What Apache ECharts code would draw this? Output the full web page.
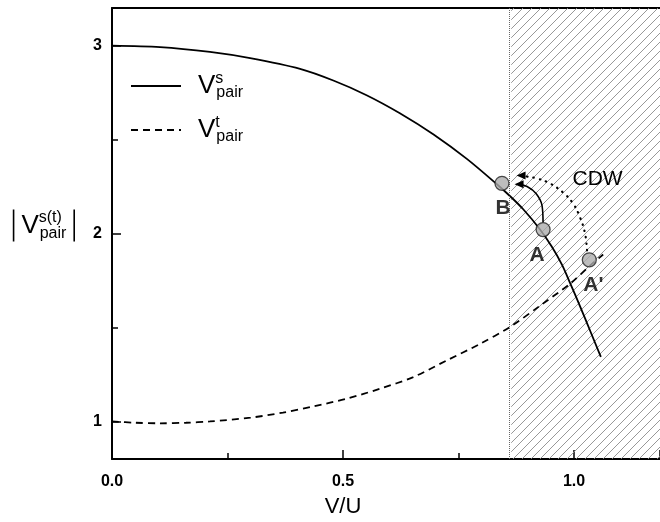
<!DOCTYPE html>
<html>
<head>
<meta charset="utf-8">
<script src="https://cdn.jsdelivr.net/npm/echarts@6/dist/echarts.min.js"></script>
<style>html,body{margin:0;padding:0;background:#fff}#c{width:660px;height:522px}</style>
</head>
<body>
<div id="c"></div>
<script>
// ---- data ----
const xMin = 0, xMax = 1.186;
const yMin = 0.8, yMax = 3.2;
const yMajorTicks = [1, 2, 3];
const yMinorTicks = [1.5, 2.5];
const cdwStart = 0.864;

const singletCurve = [
  [0, 3.0], [0.104, 2.992], [0.212, 2.966], [0.299, 2.933], [0.407, 2.876], [0.479, 2.814],
  [0.551, 2.736], [0.623, 2.640], [0.696, 2.527], [0.768, 2.397], [0.833, 2.262],
  [0.864, 2.193], [0.890, 2.129], [0.926, 2.023], [0.952, 1.929], [0.974, 1.833],
  [0.991, 1.739], [1.013, 1.612], [1.035, 1.481], [1.058, 1.343]
];
const tripletCurve = [
  [0, 1.0], [0.05, 0.993], [0.104, 0.99], [0.16, 0.993], [0.212, 1.0], [0.3, 1.02],
  [0.37, 1.047], [0.436, 1.08], [0.508, 1.121], [0.58, 1.174], [0.652, 1.236],
  [0.724, 1.324], [0.797, 1.413], [0.861, 1.502], [0.926, 1.615], [0.991, 1.732],
  [1.035, 1.83], [1.063, 1.888]
];
const pointNames = ["B", "A", "A'"];
const pointValues = [[0.844, 2.267], [0.933, 2.021], [1.033, 1.860]];

const arrowSolidPath = [[0.9329, 2.058], [0.9307, 2.149], [0.9177, 2.213], [0.8983, 2.250], [0.881, 2.262]];
const arrowDottedPath = [[1.0281, 1.910], [1.0238, 2.0], [1.0130, 2.085], [0.9978, 2.160], [0.9762, 2.218],
  [0.9481, 2.266], [0.9199, 2.293], [0.8983, 2.303], [0.8853, 2.309]];

const legendNames = ['Vs', 'Vt'];
const legendSup = {Vs: 's', Vt: 't'};

// ---- hatch pattern ----
const pc = document.createElement('canvas');
pc.width = 9; pc.height = 9;
const g = pc.getContext('2d');
g.strokeStyle = '#8c8c8c'; g.lineWidth = 0.9;
g.beginPath();
g.moveTo(0, 9); g.lineTo(9, 0);
g.moveTo(-1, 1); g.lineTo(1, -1);
g.moveTo(8, 10); g.lineTo(10, 8);
g.stroke();

function arrowData(path) {
  return path.map((p, i) => i === path.length - 1
    ? {value: p, symbol: 'triangle', symbolSize: [8, 9], symbolRotate: 90, itemStyle: {color: '#000'}}
    : {value: p, symbol: 'none'});
}

const FONT = 'Liberation Sans, Arial, Helvetica, sans-serif';
const richV = {
  v: {fontSize: 26, fontFamily: FONT, color: '#000', lineHeight: 30, align: 'left'},
  sup: {fontSize: 16, fontFamily: FONT, color: '#000', verticalAlign: 'top', width: 1, lineHeight: 17, align: 'left'},
  sub: {fontSize: 16, fontFamily: FONT, color: '#000', verticalAlign: 'bottom', lineHeight: 17, align: 'left'},
  sp: {width: 7, fontSize: 10, align: 'left'},
  bar: {width: 1.6, height: 32, backgroundColor: '#000', fontSize: 10, align: 'left'}
};

const chart = echarts.init(document.getElementById('c'), null, {renderer: 'canvas'});
chart.setOption({
  backgroundColor: '#fff',
  animation: false,
  grid: {left: 112, right: 0, top: 8, bottom: 63, outerBoundsMode: 'none', containLabel: false},
  legend: {
    data: legendNames,
    orient: 'vertical',
    left: 130, top: 71, padding: 0,
    itemWidth: 50, itemHeight: 14, itemGap: 14,
    itemStyle: {color: 'rgba(0,0,0,0)', borderWidth: 0, opacity: 0},
    formatter: n => '{v|V}{sup|' + legendSup[n] + '}{sub|pair}',
    textStyle: {padding: [0, 0, 0, 12], rich: richV}
  },
  xAxis: [{
    type: 'value', min: xMin, max: xMax, interval: 0.5,
    axisLine: {show: true, onZero: false, lineStyle: {color: '#000', width: 2}},
    axisTick: {show: true, inside: true, length: 9, lineStyle: {color: '#000', width: 1.5}},
    minorTick: {show: true, splitNumber: 2, length: 6, lineStyle: {color: '#000', width: 1.5}},
    splitLine: {show: false},
    axisLabel: {margin: 15, color: '#000', fontSize: 16, fontWeight: 'bold', fontFamily: FONT,
      showMaxLabel: false, formatter: v => v.toFixed(1)},
    name: 'V/U', nameLocation: 'middle', nameGap: 37,
    nameTextStyle: {fontSize: 22, color: '#000', fontFamily: FONT, padding: [0, 86, 0, 0]}
  }, {
    type: 'value', position: 'top', min: xMin, max: xMax, interval: 0.5,
    axisLine: {show: true, lineStyle: {color: '#000', width: 2}},
    axisTick: {show: false}, axisLabel: {show: false}, splitLine: {show: false}
  }],
  yAxis: [{
    type: 'value', min: yMin, max: yMax,
    axisLine: {show: true, onZero: false, lineStyle: {color: '#000', width: 2}},
    axisTick: {show: true, inside: true, length: 9, customValues: yMajorTicks, lineStyle: {color: '#000', width: 1.5}},
    axisLabel: {customValues: yMajorTicks, margin: 10, color: '#000', fontSize: 16, fontWeight: 'bold', fontFamily: FONT},
    splitLine: {show: false},
    name: '{bar| }{sp| }{v|V}{sup|s(t)}{sub|pair}{sp| }{bar| }',
    nameLocation: 'middle', nameRotate: 0, nameGap: 37,
    nameTextStyle: {align: 'right', padding: [0, 0, 16, 0], rich: richV}
  }, {
    type: 'value', min: yMin, max: yMax, position: 'left',
    axisLine: {show: false},
    axisTick: {show: true, inside: true, length: 6, customValues: yMinorTicks, lineStyle: {color: '#000', width: 1.5}},
    axisLabel: {show: false}, splitLine: {show: false}
  }],
  series: [{
    name: 'Vs', type: 'line', smooth: 0.3, symbol: 'none',
    data: singletCurve,
    lineStyle: {color: '#000', width: 1.8}, itemStyle: {color: '#000'},
    z: 3,
    markArea: {
      silent: true,
      itemStyle: {color: {image: pc, repeat: 'repeat'}},
      label: {show: true, position: 'insideTop', distance: 161, offset: [12, 0],
        formatter: 'CDW', fontSize: 21, color: '#000', fontFamily: FONT},
      data: [[{xAxis: cdwStart}, {xAxis: xMax}]]
    },
    markLine: {
      silent: true, symbol: ['none', 'none'], label: {show: false},
      lineStyle: {color: '#666', width: 1, type: 'dotted'},
      data: [{xAxis: cdwStart}]
    }
  }, {
    name: 'Vt', type: 'line', smooth: 0.3, symbol: 'none',
    data: tripletCurve,
    lineStyle: {color: '#000', width: 1.8, type: [7, 5]}, itemStyle: {color: '#000'},
    z: 3
  }, {
    name: 'arrowSolid', type: 'line', smooth: 0.4, showSymbol: true,
    data: arrowData(arrowSolidPath),
    lineStyle: {color: '#000', width: 1.6}, itemStyle: {color: '#000'}, z: 4
  }, {
    name: 'arrowDotted', type: 'line', smooth: 0.4, showSymbol: true,
    data: arrowData(arrowDottedPath),
    lineStyle: {color: '#000', width: 2.2, type: [0.5, 6], cap: 'round'}, itemStyle: {color: '#000'}, z: 4
  }, {
    name: 'points', type: 'scatter', symbol: 'circle', symbolSize: 14,
    data: pointValues.map((v, i) => ({
      value: v, name: pointNames[i],
      label: {offset: i === 1 ? [-6, 0] : (i === 2 ? [4, 0] : [1, 0])}
    })),
    itemStyle: {color: '#adadad', borderColor: '#222', borderWidth: 1.3},
    label: {show: true, position: 'bottom', distance: 7, formatter: p => p.name,
      fontSize: 21, fontWeight: 'bold', color: '#000', fontFamily: FONT},
    z: 5
  }]
});
</script>
</body>
</html>
